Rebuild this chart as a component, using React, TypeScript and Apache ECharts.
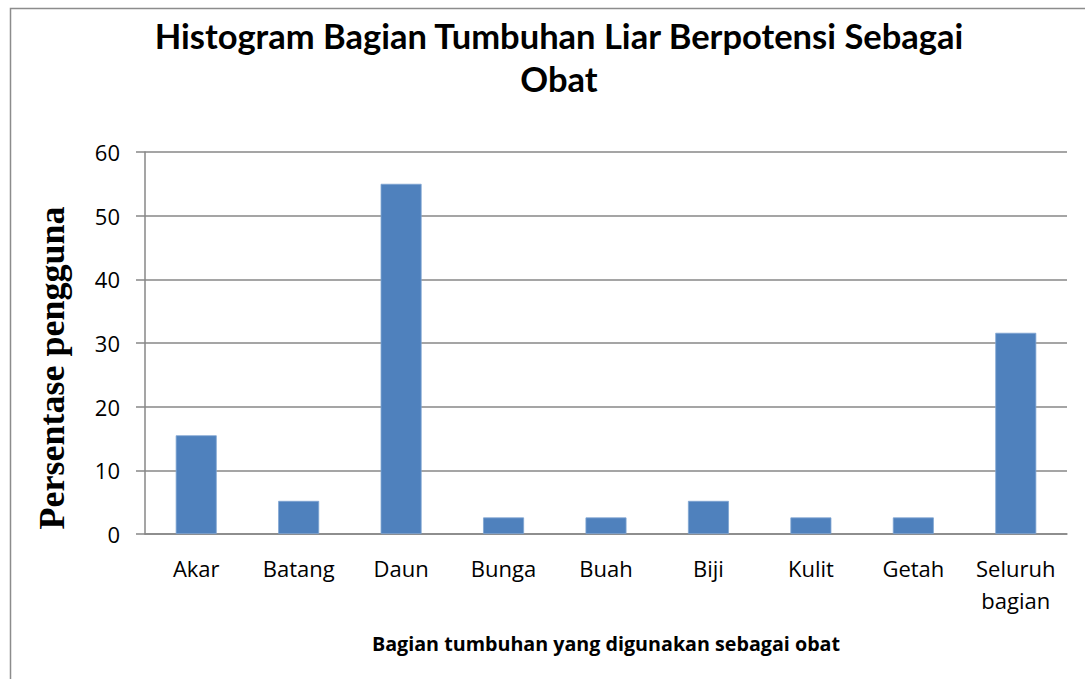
import React, { useEffect, useRef } from "react";
import * as echarts from "echarts";

const categories = ["Akar", "Batang", "Daun", "Bunga", "Buah", "Biji", "Kulit", "Getah", "Seluruh\nbagian"];
const values = [15.5, 5.2, 55, 2.6, 2.6, 5.2, 2.6, 2.6, 31.6];
const yTicks = { min: 0, max: 60, interval: 10 };
const titleText = "Histogram Bagian Tumbuhan Liar Berpotensi Sebagai\nObat";
const xName = "Bagian tumbuhan yang digunakan sebagai obat";
const yName = "Persentase pengguna";

export default function App() {
  const ref = useRef<HTMLDivElement>(null);
  useEffect(() => {
    const chart = echarts.init(ref.current!, null, { renderer: "svg" });
    chart.setOption({
      animation: false,
      backgroundColor: "#fff",
      graphic: [
        {
          type: "rect",
          shape: { x: 10.5, y: 8.5, width: 1090, height: 690 },
          style: { fill: "none", stroke: "#8c8c8c", lineWidth: 1.5 },
          silent: true,
        },
        {
          type: "text",
          x: 52,
          y: 368,
          rotation: Math.PI / 2,
          style: {
            text: yName,
            fontFamily: "Liberation Serif",
            fontWeight: "bold",
            fontSize: 36,
            fill: "#000",
            textAlign: "center",
            textVerticalAlign: "middle",
          },
          silent: true,
        },
      ],
      title: {
        text: titleText,
        left: 554,
        textAlign: "center",
        top: 9,
        textStyle: {
          fontFamily: "Lato",
          fontWeight: "bold",
          fontSize: 34.5,
          lineHeight: 43,
          color: "#000",
        },
      },
      grid: { left: 145, right: 18, top: 152, bottom: 145, containLabel: false },
      xAxis: {
        type: "category",
        data: categories,
        name: xName,
        nameLocation: "middle",
        nameGap: 99,
        nameTextStyle: { fontFamily: "Open Sans", fontWeight: "bold", fontSize: 19.7, color: "#000" },
        axisLine: { lineStyle: { color: "#878787", width: 1.5 } },
        axisTick: { show: false },
        axisLabel: {
          fontFamily: "Open Sans",
          fontSize: 22,
          color: "#000",
          margin: 18,
          lineHeight: 32,
          interval: 0,
        },
      },
      yAxis: {
        type: "value",
        min: yTicks.min,
        max: yTicks.max,
        interval: yTicks.interval,
        axisLine: { show: true, lineStyle: { color: "#878787", width: 1.5 } },
        axisTick: { show: true, length: 9, lineStyle: { color: "#878787", width: 1.5 } },
        splitLine: { lineStyle: { color: "#878787", width: 1.5 } },
        axisLabel: { fontFamily: "Open Sans", fontSize: 22, color: "#000", margin: 25 },
      },
      series: [
        {
          type: "bar",
          data: values,
          barWidth: "40%",
          itemStyle: { color: "#4F81BD", borderColor: "#7FA4D2", borderWidth: 0.8 },
        },
      ],
    });
    return () => chart.dispose();
  }, []);
  return (
    <div
      ref={ref}
      style={{ position: "fixed", left: 0, top: 0, width: 1085, height: 679 }}
    />
  );
}
